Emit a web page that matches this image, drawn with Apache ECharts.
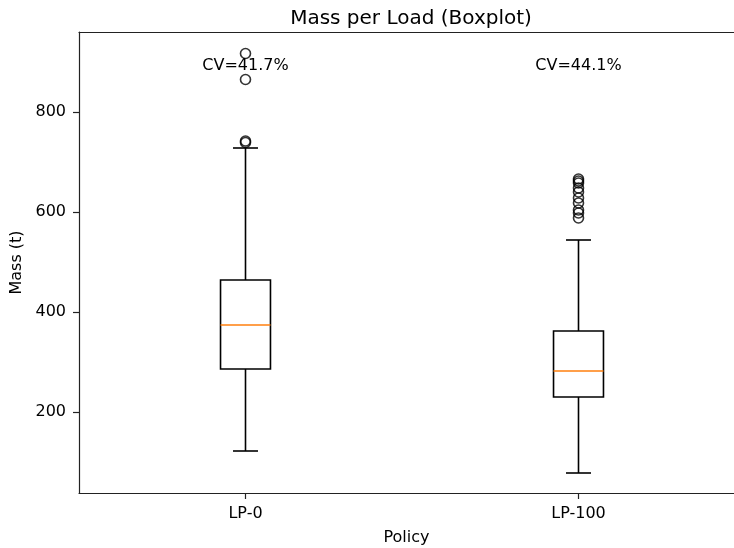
<!DOCTYPE html>
<html>
<head>
<meta charset="utf-8">
<script src="https://cdn.jsdelivr.net/npm/echarts@6/dist/echarts.min.js"></script>
<style>html,body{margin:0;padding:0;background:#fff;overflow:hidden}#c{width:734px;height:548px}</style>
</head>
<body>
<div id="c"></div>
<script>
const categories = ['LP-0', 'LP-100'];
// [lower whisker, Q1, median, Q3, upper whisker]
const lp0Box = [122, 286, 374, 464, 728];
const lp100Box = [78, 230, 282, 362, 544];
const lp0Outliers = [917, 865, 742, 739];
const lp100Outliers = [666, 662, 658, 648, 640, 628, 618, 604, 598, 588];
const cvLabels = ['CV=41.7%', 'CV=44.1%'];
const yTicks = [200, 400, 600, 800];

const FONT = 'DejaVu Sans';
const positions = categories.map((c, i) => i + 1);
const boxes = [lp0Box, lp100Box];
const boxData = boxes.map((b, i) => [positions[i]].concat(b));
const outlierData = [];
lp0Outliers.forEach(v => outlierData.push([positions[0], v]));
lp100Outliers.forEach(v => outlierData.push([positions[1], v]));

function renderBox(params, api) {
  const px = api.value(0);
  const lo = api.coord([px, api.value(1)]);
  const q1 = api.coord([px, api.value(2)]);
  const med = api.coord([px, api.value(3)]);
  const q3 = api.coord([px, api.value(4)]);
  const hi = api.coord([px, api.value(5)]);
  const unit = api.size([1, 0])[0];
  const hw = unit * 0.075;
  const cw = unit * 0.0375;
  const x = lo[0];
  const ls = {stroke: '#000', lineWidth: 1.6, fill: null};
  const cs = params.coordSys;
  return {
    type: 'group',
    children: [
      {type: 'line', shape: {x1: x, y1: lo[1], x2: x, y2: q1[1]}, style: ls},
      {type: 'line', shape: {x1: x, y1: q3[1], x2: x, y2: hi[1]}, style: ls},
      {type: 'line', shape: {x1: x - cw, y1: lo[1], x2: x + cw, y2: lo[1]}, style: ls},
      {type: 'line', shape: {x1: x - cw, y1: hi[1], x2: x + cw, y2: hi[1]}, style: ls},
      {type: 'rect', shape: {x: x - hw, y: q3[1], width: 2 * hw, height: q1[1] - q3[1]}, style: ls},
      {type: 'line', shape: {x1: x - hw, y1: med[1], x2: x + hw, y2: med[1]}, style: {stroke: '#ff7f0e', lineWidth: 1.6}},
      {type: 'text', x: x, y: cs.y + cs.height * 0.073, style: {text: cvLabels[params.dataIndex], fill: '#000', font: '16px "' + FONT + '"', align: 'center', verticalAlign: 'middle'}}
    ]
  };
}

const axisCol = '#222';
const chart = echarts.init(document.getElementById('c'), null, {renderer: 'canvas'});
chart.setOption({
  animation: false,
  backgroundColor: '#fff',
  title: {
    text: 'Mass per Load (Boxplot)',
    left: 406, top: 4, textAlign: 'center',
    textStyle: {fontFamily: FONT, fontSize: 20, fontWeight: 'normal', color: '#000'}
  },
  grid: {left: 79, top: 32, right: 0, height: 461, containLabel: false, outerBoundsMode: 'none'},
  xAxis: [{
    type: 'value',
    min: 0.5, max: 0.5 + 655 / 333,
    name: 'Policy',
    nameLocation: 'middle',
    nameGap: 37,
    nameTextStyle: {fontFamily: FONT, fontSize: 16, color: '#000'},
    axisLine: {show: true, onZero: false, lineStyle: {color: axisCol, width: 1.2}},
    axisTick: {show: true, length: 6, customValues: positions, lineStyle: {color: axisCol, width: 1.2}},
    axisLabel: {fontFamily: FONT, fontSize: 16, color: '#000', margin: 13, customValues: positions,
      formatter: v => categories[Math.round(v) - 1] || ''},
    splitLine: {show: false}
  }, {
    type: 'value',
    min: 0.5, max: 0.5 + 655 / 333,
    position: 'top',
    axisLine: {show: true, onZero: false, lineStyle: {color: axisCol, width: 1.2}},
    axisTick: {show: false},
    axisLabel: {show: false},
    splitLine: {show: false}
  }],
  yAxis: {
    type: 'value',
    min: 38, max: 960,
    name: 'Mass (t)',
    nameLocation: 'middle',
    nameGap: 48,
    nameRotate: 90,
    nameTextStyle: {fontFamily: FONT, fontSize: 16, color: '#000'},
    axisLine: {show: true, onZero: false, lineStyle: {color: axisCol, width: 1.2}},
    axisTick: {show: true, length: 6, customValues: yTicks, lineStyle: {color: axisCol, width: 1.2}},
    axisLabel: {fontFamily: FONT, fontSize: 16, color: '#000', margin: 13, customValues: yTicks},
    splitLine: {show: false}
  },
  series: [
    {
      type: 'custom',
      renderItem: renderBox,
      data: boxData,
      encode: {x: 0, y: [1, 2, 3, 4, 5]},
      z: 2
    },
    {
      type: 'scatter',
      data: outlierData,
      symbol: 'circle',
      symbolSize: 10,
      itemStyle: {color: 'rgba(0,0,0,0)', borderColor: '#000', borderWidth: 1.6},
      z: 3
    }
  ]
});
</script>
</body>
</html>
